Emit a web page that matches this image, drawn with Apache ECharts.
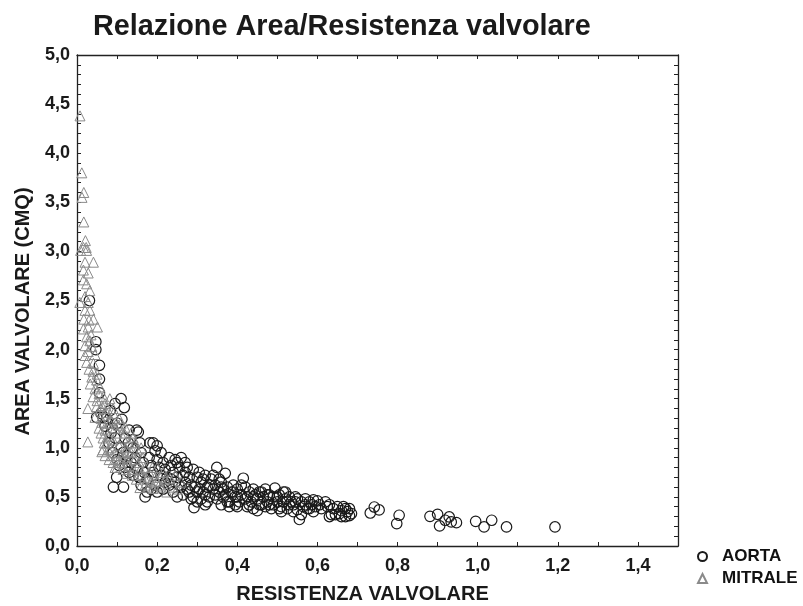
<!DOCTYPE html>
<html>
<head>
<meta charset="utf-8">
<script src="https://cdn.jsdelivr.net/npm/echarts@6/dist/echarts.min.js"></script>
<style>html,body{margin:0;padding:0;background:#fff}#c{width:803px;height:606px}</style>
</head>
<body>
<div id="c"></div>
<script>
const titleText = 'Relazione Area/Resistenza valvolare';
const xName = 'RESISTENZA VALVOLARE';
const yName = 'AREA VALVOLARE (CMQ)';
const seriesNames = ['AORTA', 'MITRALE'];

const aorta = [
[0.031,2.50],[0.047,2.08],[0.047,2.00],[0.056,1.84],[0.056,1.70],[0.056,1.56],[0.049,1.31],[0.06,1.35],[0.065,1.31],[0.07,1.22],
[0.074,1.30],[0.08,1.05],[0.085,1.15],[0.09,0.95],[0.095,1.45],[0.095,1.1],[0.1,1.25],[0.1,0.88],[0.091,0.60],[0.099,0.70],[0.083,1.38],[0.088,1.20],
[0.110,1.50],[0.118,1.41],[0.112,1.29],[0.116,0.60],[0.12,1.1],[0.11,1.0],[0.125,0.92],[0.105,0.82],[0.13,1.18],[0.128,1.05],[0.115,0.95],[0.12,0.80],[0.13,0.75],
[0.149,1.18],[0.153,1.16],[0.157,1.05],[0.14,1.0],[0.145,0.9],[0.135,0.85],[0.16,0.95],[0.165,0.85],[0.15,0.78],[0.14,0.72],[0.155,0.70],[0.168,0.75],[0.16,0.62],[0.17,0.5],
[0.182,1.05],[0.195,0.97],[0.19,1.05],[0.2,1.02],[0.18,0.9],[0.185,0.82],[0.19,0.75],[0.2,0.88],[0.205,0.8],[0.21,0.72],[0.175,0.68],[0.195,0.62],[0.21,0.95],[0.215,0.85],[0.22,0.78],[0.2,0.55],[0.185,0.58],[0.22,0.65],[0.175,0.55],
[0.23,0.9],[0.235,0.82],[0.24,0.75],[0.245,0.88],[0.25,0.7],[0.255,0.8],[0.26,0.9],[0.265,0.72],[0.27,0.65],[0.275,0.8],[0.23,0.62],[0.24,0.55],[0.25,0.5],[0.26,0.6],[0.28,0.7],[0.28,0.55],[0.225,0.7],[0.245,0.65],[0.265,0.52],[0.27,0.85],
[0.29,0.78],[0.295,0.6],[0.3,0.7],[0.305,0.75],[0.31,0.65],[0.315,0.55],[0.32,0.72],[0.325,0.6],[0.33,0.5],[0.335,0.68],[0.29,0.5],[0.3,0.45],[0.31,0.48],[0.32,0.52],[0.292,0.39],[0.285,0.62],[0.34,0.58],[0.34,0.72],[0.305,0.58],[0.325,0.45],
[0.349,0.80],[0.36,0.65],[0.37,0.74],[0.355,0.55],[0.365,0.5],[0.375,0.6],[0.38,0.45],[0.385,0.55],[0.39,0.62],[0.395,0.5],[0.4,0.58],[0.405,0.45],[0.41,0.52],[0.415,0.69],[0.42,0.6],[0.35,0.48],[0.36,0.42],[0.38,0.4],[0.4,0.4],[0.41,0.62],[0.37,0.52],[0.345,0.62],
[0.425,0.5],[0.43,0.55],[0.435,0.45],[0.44,0.38],[0.445,0.52],[0.45,0.48],[0.455,0.55],[0.46,0.42],[0.465,0.5],[0.47,0.58],[0.475,0.45],[0.48,0.52],[0.485,0.38],[0.49,0.5],[0.494,0.59],[0.5,0.45],[0.43,0.42],[0.45,0.36],[0.47,0.4],[0.49,0.42],[0.46,0.55],[0.44,0.5],
[0.505,0.52],[0.51,0.4],[0.515,0.55],[0.52,0.48],[0.525,0.38],[0.53,0.5],[0.535,0.45],[0.54,0.42],[0.545,0.5],[0.55,0.37],[0.555,0.27],[0.56,0.45],[0.565,0.4],[0.57,0.48],[0.575,0.38],[0.58,0.45],[0.585,0.42],[0.59,0.35],[0.595,0.4],[0.6,0.46],[0.51,0.35],[0.52,0.55],[0.54,0.35],[0.56,0.32],
[0.62,0.45],[0.625,0.4],[0.63,0.3],[0.635,0.32],[0.64,0.38],[0.65,0.4],[0.655,0.33],[0.66,0.36],[0.665,0.4],[0.67,0.3],[0.675,0.35],[0.68,0.38],[0.685,0.33],[0.66,0.3],
[0.215,0.58],[0.235,0.68],[0.255,0.62],[0.275,0.58],[0.285,0.48],[0.3,0.55],[0.315,0.68],[0.33,0.62],[0.345,0.52],[0.355,0.68],[0.365,0.58],[0.375,0.45],[0.39,0.55],[0.395,0.42],[0.42,0.48],[0.425,0.4],[0.44,0.58],[0.455,0.42],[0.475,0.52],[0.48,0.42],
[0.5,0.5],[0.505,0.38],[0.515,0.45],[0.53,0.42],[0.545,0.45],[0.55,0.48],[0.57,0.42],[0.58,0.38],[0.59,0.47],[0.605,0.42],[0.61,0.38],[0.645,0.32],[0.67,0.38],[0.68,0.31],[0.63,0.42],[0.4,0.5],[0.36,0.6],[0.32,0.42],[0.27,0.75],[0.25,0.85],
[0.732,0.336],[0.742,0.397],[0.754,0.367],[0.804,0.313],[0.798,0.228],[0.881,0.302],[0.900,0.323],[0.905,0.204],[0.919,0.262],[0.929,0.296],[0.934,0.245],[0.947,0.238],[0.995,0.251],[1.016,0.194],[1.035,0.262],[1.072,0.194],[1.193,0.194]
];

const mitrale = [
[0.0075,4.38],[0.012,3.80],[0.017,3.60],[0.0125,3.55],[0.017,3.30],[0.021,3.11],[0.016,3.04],[0.023,3.04],[0.009,3.01],[0.024,3.01],[0.02,2.89],[0.041,2.89],[0.016,2.81],[0.028,2.78],[0.016,2.71],[0.024,2.67],[0.032,2.60],[0.02,2.54],[0.007,2.48],[0.028,2.48],[0.02,2.40],[0.032,2.40],[0.017,2.31],[0.041,2.31],[0.028,2.23],[0.051,2.23],[0.016,2.21],[0.024,2.13],[0.032,2.09],[0.02,2.04],[0.037,2.03],[0.02,1.94],[0.024,1.87],[0.041,1.86],[0.037,1.72],[0.049,1.69],[0.057,1.62],[0.027,1.40],[0.066,1.52],[0.082,1.50],[0.049,1.42],[0.062,1.43],[0.074,1.36],[0.091,1.35],[0.045,1.31],[0.062,1.26],[0.082,1.25],[0.103,1.23],[0.12,1.21],[0.027,1.06],
[0.03,2.3],[0.035,2.15],[0.028,1.98],[0.045,1.95],[0.03,1.8],[0.04,1.78],[0.05,1.75],[0.033,1.65],[0.045,1.6],[0.04,1.52],[0.055,1.55],[0.05,1.48],[0.07,1.45],[0.075,1.4],
[0.055,1.2],[0.06,1.15],[0.065,1.1],[0.07,1.18],[0.075,1.05],[0.08,1.12],[0.085,1.0],[0.09,1.08],[0.095,0.95],[0.1,1.15],[0.105,1.02],[0.11,0.92],[0.115,1.1],[0.12,1.0],[0.125,0.88],[0.13,1.05],[0.065,0.98],[0.07,0.92],[0.08,0.88],[0.09,0.85],[0.1,0.8],[0.095,1.2],[0.11,1.25],[0.085,1.28],[0.062,0.96],[0.095,0.80],[0.124,0.74],[0.115,0.78],[0.13,0.82],[0.135,0.95],[0.14,1.1],[0.145,0.88],[0.15,0.98],[0.14,0.78],[0.155,0.85],[0.16,0.72],[0.165,0.9],[0.17,0.8],[0.175,0.68],[0.18,0.75],[0.185,0.65],[0.157,0.595],[0.19,0.585],[0.195,0.7],[0.2,0.8],[0.205,0.62],[0.207,0.70],[0.21,0.6],[0.215,0.75],[0.22,0.68],[0.224,0.55],[0.232,0.69],[0.24,0.6],[0.245,0.72],[0.25,0.58],[0.26,0.65],[0.17,0.62],[0.16,1.0],[0.12,0.95],[0.105,1.3],[0.075,1.25],[0.06,1.3],[0.068,1.05],[0.078,0.98],[0.088,0.92],[0.098,0.88],[0.108,0.85],[0.118,0.9],[0.128,0.96],[0.138,0.72],[0.148,0.68],[0.158,0.78],[0.168,0.7],[0.178,0.6],[0.188,0.8],[0.198,0.66],[0.135,1.15],[0.145,1.05],[0.118,1.15],[0.09,1.4],[0.06,1.4]
];

const FONT = '"Liberation Sans", Arial, Helvetica, sans-serif';
const near = (v, step) => Math.abs(v / step - Math.round(v / step)) < 1e-6;
const fmtX = v => near(v, 0.2) ? Number(v).toFixed(1).replace('.', ',') : '';
const fmtY = v => near(v, 0.5) ? Number(v).toFixed(1).replace('.', ',') : '';
const axisLine = {show: true, onZero: false, lineStyle: {color: '#222', width: 1.3}};
const tick = {show: true, inside: true, length: 4, lineStyle: {color: '#222', width: 1}};
const labelStyle = {fontFamily: FONT, fontWeight: 'bold', fontSize: 18, color: '#1a1a1a'};

const chart = echarts.init(document.getElementById('c'), null, {renderer: 'canvas'});
chart.setOption({
  animation: false,
  backgroundColor: '#fff',
  title: {
    text: titleText, left: 88, top: 8,
    textStyle: {fontFamily: FONT, fontWeight: 'bold', fontSize: 28.8, color: '#1a1a1a'}
  },
  grid: {left: 77, right: 125, top: 55, bottom: 60, containLabel: false, outerBoundsMode: 'none'},
  legend: {
    orient: 'vertical', left: 692, top: 543, itemWidth: 9, itemHeight: 9, itemGap: 5,
    data: seriesNames,
    textStyle: {fontFamily: FONT, fontWeight: 'bold', fontSize: 17, color: '#111', lineHeight: 17, padding: [0, 0, 0, 10]}
  },
  xAxis: [{
    type: 'value', min: 0, max: 1.5, interval: 0.1, position: 'bottom',
    name: xName, nameLocation: 'middle', nameGap: 38,
    nameTextStyle: {fontFamily: FONT, fontWeight: 'bold', fontSize: 20, color: '#1a1a1a', padding: [0, 30, 0, 0]},
    axisLine, axisTick: tick, splitLine: {show: false},
    axisLabel: Object.assign({formatter: fmtX, margin: 11, showMaxLabel: false}, labelStyle)
  }, {
    type: 'value', min: 0, max: 1.5, interval: 0.1, position: 'top',
    axisLine, axisTick: tick, splitLine: {show: false}, axisLabel: {show: false}
  }],
  yAxis: [{
    type: 'value', min: 0, max: 5, interval: 0.1, position: 'left',
    name: yName, nameLocation: 'middle', nameGap: 44, nameRotate: 90,
    nameTextStyle: {fontFamily: FONT, fontWeight: 'bold', fontSize: 20, color: '#1a1a1a', padding: [0, 22, 0, 0]},
    axisLine, axisTick: tick, splitLine: {show: false},
    axisLabel: Object.assign({formatter: fmtY, margin: 7}, labelStyle)
  }, {
    type: 'value', min: 0, max: 5, interval: 0.1, position: 'right',
    axisLine, axisTick: tick, splitLine: {show: false}, axisLabel: {show: false}
  }],
  series: [{
    name: 'AORTA', type: 'scatter', data: aorta, symbol: 'circle', symbolSize: 10.5,
    itemStyle: {color: 'rgba(255,255,255,0)', borderColor: '#1a1a1a', borderWidth: 1.2, opacity: 1}
  }, {
    name: 'MITRALE', type: 'scatter', data: mitrale, symbol: 'triangle', symbolSize: 10,
    itemStyle: {color: 'rgba(255,255,255,0)', borderColor: '#8a8a8a', borderWidth: 1, opacity: 1}
  }]
});
</script>
</body>
</html>
